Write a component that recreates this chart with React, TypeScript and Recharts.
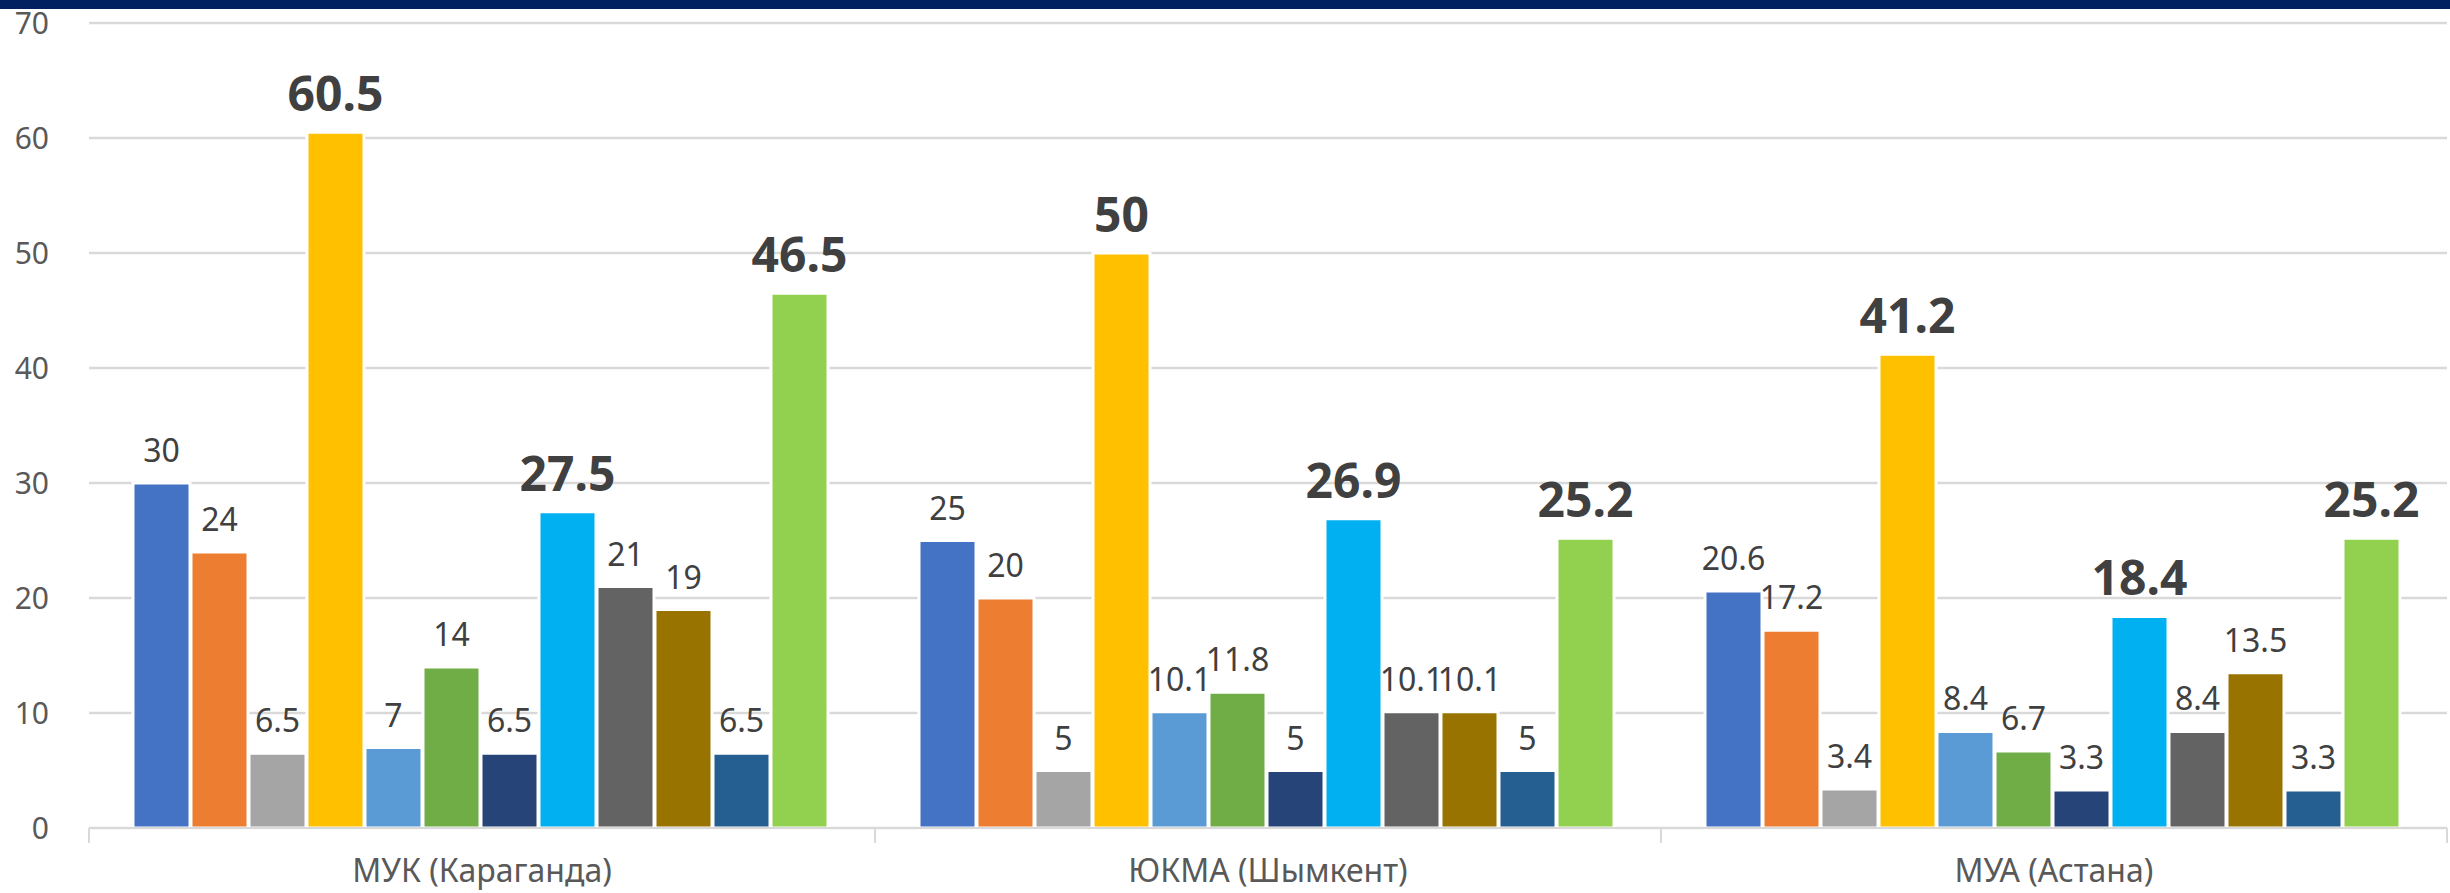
import { BarChart, Bar, XAxis, YAxis, CartesianGrid, LabelList } from 'recharts';

const CATEGORIES = ['МУК (Караганда)', 'ЮКМА (Шымкент)', 'МУА (Астана)'];

const S1 = [30, 25, 20.6];
const S2 = [24, 20, 17.2];
const S3 = [6.5, 5, 3.4];
const S4 = [60.5, 50, 41.2];
const S5 = [7, 10.1, 8.4];
const S6 = [14, 11.8, 6.7];
const S7 = [6.5, 5, 3.3];
const S8 = [27.5, 26.9, 18.4];
const S9 = [21, 10.1, 8.4];
const S10 = [19, 10.1, 13.5];
const S11 = [6.5, 5, 3.3];
const S12 = [46.5, 25.2, 25.2];

const Y_TICKS = [0, 10, 20, 30, 40, 50, 60, 70];

const SERIES = [
    { key: 's1', values: S1, color: '#4472C4', bold: false },
    { key: 's2', values: S2, color: '#ED7D31', bold: false },
    { key: 's3', values: S3, color: '#A5A5A5', bold: false },
    { key: 's4', values: S4, color: '#FFC000', bold: true },
    { key: 's5', values: S5, color: '#5B9BD5', bold: false },
    { key: 's6', values: S6, color: '#70AD47', bold: false },
    { key: 's7', values: S7, color: '#264478', bold: false },
    { key: 's8', values: S8, color: '#00B0F0', bold: true },
    { key: 's9', values: S9, color: '#636363', bold: false },
    { key: 's10', values: S10, color: '#997300', bold: false },
    { key: 's11', values: S11, color: '#255E91', bold: false },
    { key: 's12', values: S12, color: '#92D050', bold: true },
];

const data = CATEGORIES.map((name, i) => {
    const row: Record<string, string | number> = { name };
    SERIES.forEach((s) => { row[s.key] = s.values[i]; });
    return row;
});

const W = 2450;
const H = 893;
const PLOT_LEFT = 89;
const PLOT_RIGHT = 3;
const BAND = (W - PLOT_LEFT - PLOT_RIGHT) / CATEGORIES.length;

function CategoryTick({ x, y, payload }: any) {
    return (
        <g>
            <line x1={x - BAND / 2} x2={x - BAND / 2} y1={y} y2={y + 15} stroke="#d9d9d9" strokeWidth={2} />
            <line x1={x + BAND / 2} x2={x + BAND / 2} y1={y} y2={y + 15} stroke="#d9d9d9" strokeWidth={2} />
            <text x={x} y={y} dy={54} textAnchor="middle" fill="#595959" fontSize={32}>{payload.value}</text>
        </g>
    );
}

export default function App() {
    return (
        <div style={{ position: 'absolute', left: 0, top: 0, width: W, height: H, background: '#fff', fontFamily: '"Noto Sans", sans-serif' }}>
            <div style={{ position: 'absolute', left: 0, top: 0, width: W, height: 9, background: '#002060' }} />
            <BarChart width={W} height={H} data={data} margin={{ top: 23, right: PLOT_RIGHT, bottom: 0, left: 0 }} barCategoryGap={44} barGap={1}>
                <CartesianGrid vertical={false} stroke="#d9d9d9" strokeWidth={2.5} />
                <XAxis dataKey="name" height={65} tickSize={0} tickMargin={0} axisLine={{ stroke: '#d9d9d9', strokeWidth: 2 }} tickLine={false} tick={<CategoryTick />} interval={0} />
                <YAxis width={PLOT_LEFT} domain={[0, 70]} ticks={Y_TICKS} tickSize={0} tickMargin={40} axisLine={false} tickLine={false} tick={{ fill: '#595959', fontSize: 30 }} />
                {SERIES.map((s) => (
                    <Bar key={s.key} dataKey={s.key} fill={s.color} stroke="#fff" strokeWidth={3} isAnimationActive={false}>
                        <LabelList
                            dataKey={s.key}
                            position="top"
                            offset={21}
                            fill="#404040"
                            fontSize={s.bold ? 48 : 32}
                            fontWeight={s.bold ? 700 : 400}
                        />
                    </Bar>
                ))}
            </BarChart>
        </div>
    );
}
